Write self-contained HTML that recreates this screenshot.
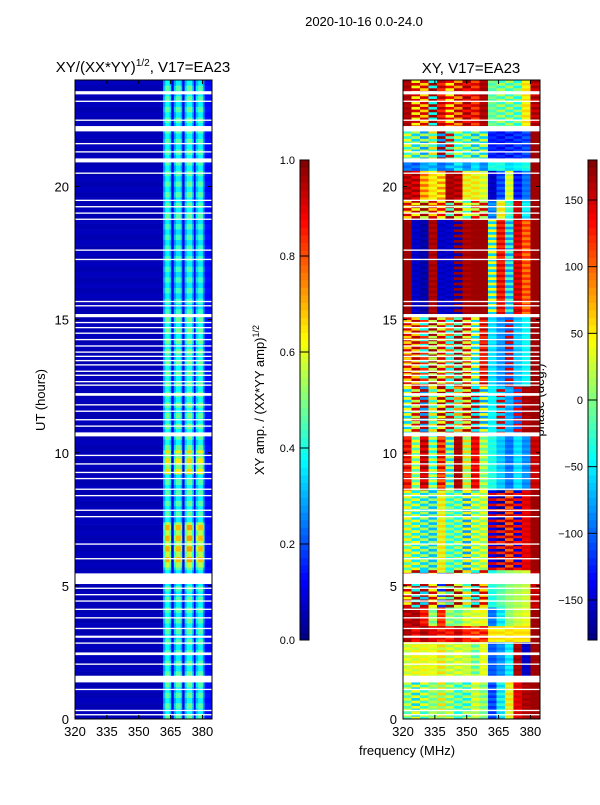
<!DOCTYPE html>
<html>
<head>
<meta charset="utf-8">
<style>
html,body{margin:0;padding:0;background:#fff;}
body{width:600px;height:800px;overflow:hidden;font-family:"Liberation Sans",sans-serif;}
svg text{font-family:"Liberation Sans",sans-serif;fill:#000;}
</style>
</head>
<body>
<svg id="fig" width="600" height="800" xmlns="http://www.w3.org/2000/svg">
  <text x="364" y="26" font-size="13" text-anchor="middle">2020-10-16 0.0-24.0</text>
  <text x="143" y="72" font-size="15" text-anchor="middle">XY/(XX*YY)<tspan font-size="10" dy="-6">1/2</tspan><tspan dy="6">, V17=EA23</tspan></text>
  <text x="471" y="73" font-size="15" text-anchor="middle">XY, V17=EA23</text>
  <text x="0" y="0" font-size="13" text-anchor="middle" transform="translate(45,400) rotate(-90)">UT (hours)</text>
  <text x="407" y="755" font-size="13" text-anchor="middle">frequency (MHz)</text>
  <text x="0" y="0" font-size="13" text-anchor="middle" transform="translate(264,400) rotate(-90)">XY amp. / (XX*YY amp)<tspan font-size="9" dy="-5">1/2</tspan></text>
  <text x="0" y="0" font-size="13" text-anchor="middle" transform="translate(544,400) rotate(-90)">phase (deg.)</text>
  <g id="ampPanel"></g>
  <g id="phasePanel"></g>
  <g id="cbars"></g>
  <g id="axes"></g>
</svg>
<script>
// ---------- data ----------
const xTicks = [320, 335, 350, 365, 380];
const yTicks = [0, 5, 10, 15, 20];
const ampTicks = [0.0, 0.2, 0.4, 0.6, 0.8, 1.0];
const phaseTicks = [-150, -100, -50, 0, 50, 100, 150];
// amplitude frequency bands [fLo, fHi, value rowA, value rowB]
const ampBands = [
  [320, 361.5, 0.05, 0.06],
  [361.5, 362.5, 0.32, 0.28],
  [362.5, 364.5, 0.47, 0.38],
  [364.5, 365.3, 0.36, 0.3],
  [365.3, 366.5, 0.1, 0.12],
  [366.5, 367.5, 0.34, 0.28],
  [367.5, 369.8, 0.46, 0.36],
  [369.8, 370.5, 0.34, 0.28],
  [370.5, 371.6, 0.1, 0.12],
  [371.6, 372.6, 0.35, 0.3],
  [372.6, 375.2, 0.48, 0.38],
  [375.2, 376.0, 0.32, 0.26],
  [376.0, 376.8, 0.1, 0.12],
  [376.8, 378.0, 0.36, 0.3],
  [378.0, 380.2, 0.46, 0.37],
  [380.2, 381.0, 0.3, 0.25],
  [381.0, 384.5, 0.14, 0.13]
];
// time segments [t0, t1, gain]
const ampSegments = [
  [0, 5.7, 1.0],
  [5.7, 7.4, 1.5],
  [7.4, 9.2, 1.0],
  [9.2, 10.1, 1.4],
  [10.1, 15.2, 1.05],
  [15.2, 18.8, 0.95],
  [18.8, 24, 1.0]
];
// phase: 16 channels of 4 MHz from 320
const phaseChannels = [320,324,328,332,336,340,344,348,352,356,360,364,368,372,376,380];
// segments [t0, t1, rowA values, rowB values]
const phaseSegments = [
  [0, 1.4, [-20,40,-30,20,0,30,-40,20,10,-10,-120,-60,30,150,160,170], [30,-60,40,-10,60,-20,10,-50,40,20,-100,-30,60,140,170,170]],
  [1.4, 2.9, [40,20,50,30,20,40,10,30,20,30,-110,-90,-60,170,-150,170], [20,50,30,40,60,10,40,20,-20,40,-100,-80,-40,160,-160,170]],
  [2.9, 3.5, [160,150,170,140,150,120,160,130,100,140,60,60,50,60,60,170], [170,130,160,150,120,140,150,120,130,110,50,40,60,50,50,170]],
  [3.5, 4.2, [170,160,120,-10,130,20,-20,10,40,50,-100,-60,0,20,30,170], [150,170,140,20,110,-10,10,40,20,30,-90,-40,10,30,40,170]],
  [4.2, 5.6, [150,-40,160,40,-120,170,30,-30,170,60,-30,-20,0,10,20,150], [40,160,-60,150,30,-20,170,60,-40,150,-40,-10,10,20,30,160]],
  [5.6, 8.6, [-20,40,-60,10,60,-40,20,-80,40,0,150,120,160,130,150,170], [50,-50,20,-70,30,10,-40,50,-20,40,-140,-170,100,-150,140,170]],
  [8.6, 10.7, [150,40,170,-40,150,20,160,60,130,30,-40,-70,-100,-60,-90,160], [120,-20,140,30,100,-60,170,0,150,-10,-30,-60,-90,-50,-80,150]],
  [10.7, 12.5, [40,150,-80,60,170,-30,80,160,-50,40,-40,-60,-80,140,170,170], [-60,20,160,-30,40,150,-20,30,160,-80,-50,150,-70,-100,160,170]],
  [12.5, 15.2, [150,60,-40,170,30,100,-20,150,40,160,-60,-90,-100,-70,-50,170], [60,160,120,20,150,-40,170,30,-60,120,-50,-80,150,-60,-40,170]],
  [15.2, 18.8, [170,-160,-160,170,-150,-160,-160,170,170,170,-60,150,-80,140,90,170], [170,-150,-170,160,-160,-150,170,160,170,170,40,120,-20,160,120,170]],
  [18.8, 19.5, [60,160,20,150,40,170,30,-30,140,10,-100,30,-40,160,-60,170], [150,40,170,60,140,-20,160,40,20,150,-80,60,-20,150,-40,170]],
  [19.5, 20.6, [150,170,100,60,40,160,170,60,30,40,-150,-120,20,-140,-100,170], [170,140,60,40,90,170,150,30,60,20,-160,-100,40,-120,-90,170]],
  [20.6, 21.0, [-90,-110,-80,-60,-100,-90,-40,-80,-60,-90,-40,-30,-60,-50,-40,170], [-100,-90,-70,-80,-90,-60,-70,-90,-50,-80,-30,-40,-50,-40,-30,170]],
  [21.0, 22.2, [-30,20,-80,60,170,-20,30,-50,10,-60,-120,-140,-110,-130,-100,170], [40,-60,20,-30,-80,150,-40,20,-70,30,-130,-120,-140,-110,-120,170]],
  [22.2, 24, [160,150,60,170,120,40,160,130,150,170,-20,20,-30,10,60,150], [170,40,150,-40,160,140,80,170,110,160,0,-30,20,-40,40,170]]
];
// flagged (white) time rows [UT, width in hours]
const gaps = [
  [23.52,0.12],[23.2,0.05],[22.49,0.05],[22.17,0.2],[21.61,0.05],[21.3,0.05],[20.98,0.15],[20.5,0.05],
  [19.48,0.05],[19.24,0.05],[19.0,0.05],[18.77,0.05],[17.61,0.05],[17.26,0.05],[15.68,0.05],[15.52,0.05],
  [15.15,0.12],[14.89,0.05],[14.7,0.05],[14.49,0.05],[14.25,0.05],[14.01,0.05],[13.78,0.05],[13.62,0.05],
  [13.46,0.05],[13.3,0.05],[13.06,0.05],[12.91,0.05],[12.67,0.05],[12.54,0.05],[12.19,0.1],[11.8,0.05],
  [11.56,0.05],[11.24,0.05],[11.0,0.05],[10.69,0.15],[9.9,0.05],[9.58,0.05],[9.26,0.05],[9.03,0.05],
  [8.63,0.05],[8.39,0.05],[7.84,0.05],[7.6,0.05],[6.57,0.05],[6.02,0.05],[5.27,0.4],[4.91,0.05],
  [4.67,0.05],[4.43,0.05],[4.12,0.05],[3.8,0.05],[3.4,0.05],[3.09,0.08],[2.85,0.05],[2.45,0.1],
  [2.06,0.05],[1.5,0.25],[1.11,0.05],[0.32,0.05],[0.16,0.05]
];
// ---------- layout ----------
const NS = "http://www.w3.org/2000/svg";
const P1 = {x0:75, x1:212}, P2 = {x0:403, x1:540}, Y0 = 719, Y1 = 80;
const fMin = 320, fMax = 384.5, tMin = 0, tMax = 24;
function xs(p, f){ return p.x0 + (f - fMin) / (fMax - fMin) * (p.x1 - p.x0); }
function ys(t){ return Y0 - (t - tMin) / (tMax - tMin) * (Y0 - Y1); }
function jet(v){
  v = Math.max(0, Math.min(1, v));
  const r = Math.max(0, Math.min(1, 1.5 - Math.abs(4*v - 3)));
  const g = Math.max(0, Math.min(1, 1.5 - Math.abs(4*v - 2)));
  const b = Math.max(0, Math.min(1, 1.5 - Math.abs(4*v - 1)));
  return `rgb(${Math.round(r*255)},${Math.round(g*255)},${Math.round(b*255)})`;
}
function mk(tag, attrs, parent){
  const e = document.createElementNS(NS, tag);
  for (const k in attrs) e.setAttribute(k, attrs[k]);
  parent.appendChild(e);
  return e;
}
const ampG = document.getElementById('ampPanel');
const phG = document.getElementById('phasePanel');
const rowH = 0.2;
// amplitude cells
ampSegments.forEach(seg => {
  for (let t = seg[0]; t < seg[1] - 1e-6; t += rowH) {
    const t2 = Math.min(t + rowH, seg[1]);
    const alt = Math.round(t / rowH) % 2;
    ampBands.forEach(b => {
      const v = (alt ? b[3] : b[2]) * (b[2] > 0.2 ? seg[2] : 1);
      const r = mk('rect', {x: xs(P1,b[0]), y: ys(t2), width: xs(P1,b[1]) - xs(P1,b[0]) + 0.3, height: ys(t) - ys(t2) + 0.3, fill: jet(v)}, ampG);
      
      
    });
  }
});
// phase cells
const phRow = 0.1;
phaseSegments.forEach(seg => {
  for (let t = seg[0]; t < seg[1] - 1e-6; t += phRow) {
    const t2 = Math.min(t + phRow, seg[1]);
    const alt = Math.round(t / phRow) % 2;
    const vals = alt ? seg[3] : seg[2];
    phaseChannels.forEach((f, i) => {
      const fe = i === phaseChannels.length - 1 ? fMax : phaseChannels[i+1];
      const r = mk('rect', {x: xs(P2,f), y: ys(t2), width: xs(P2,fe) - xs(P2,f) + 0.3, height: ys(t) - ys(t2) + 0.3, fill: jet((vals[i] + 180) / 360)}, phG);
      
      
    });
  }
});
// gaps
gaps.forEach(g => {
  [P1, P2].forEach(p => {
    const r = mk('rect', {x: p.x0, y: ys(g[0] + g[1]/2), width: p.x1 - p.x0, height: Math.max(1.2, ys(g[0] - g[1]/2) - ys(g[0] + g[1]/2)), fill: '#fff'}, p === P1 ? ampG : phG);
    
    
  });
});
// axes
const ax = document.getElementById('axes');
[P1, P2].forEach((p, pi) => {
  const fr = mk('rect', {x: p.x0, y: Y1, width: p.x1 - p.x0, height: Y0 - Y1, fill: 'none', stroke: '#000', 'stroke-width': 1}, ax);
  
  
  xTicks.forEach(f => {
    const x = xs(p, f);
    mk('line', {x1: x, x2: x, y1: Y0, y2: Y0 - 4, stroke: '#000'}, ax);
    mk('line', {x1: x, x2: x, y1: Y1, y2: Y1 + 4, stroke: '#000'}, ax);
    const tx = mk('text', {x: x, y: Y0 + 17, 'font-size': 13, 'text-anchor': 'middle'}, ax);
    tx.textContent = f;
    
    
  });
  yTicks.forEach(t => {
    const y = ys(t);
    mk('line', {x1: p.x0, x2: p.x0 + 4, y1: y, y2: y, stroke: '#000'}, ax);
    mk('line', {x1: p.x1, x2: p.x1 - 4, y1: y, y2: y, stroke: '#000'}, ax);
    const tx = mk('text', {x: p.x0 - 6, y: y + 5, 'font-size': 13, 'text-anchor': 'end'}, ax);
    tx.textContent = t;
    
    
  });
});
// colorbars
const cb = document.getElementById('cbars');
const CBY0 = 640, CBY1 = 160;
function colorbar(x, ticks, tmin, tmax, name){
  const n = 64;
  for (let i = 0; i < n; i++) {
    const y = CBY0 - (i + 1) * (CBY0 - CBY1) / n;
    mk('rect', {x: x, y: y, width: 9, height: (CBY0 - CBY1)/n + 0.4, fill: jet((i + 0.5)/n)}, cb);
  }
  const fr = mk('rect', {x: x, y: CBY1, width: 9, height: CBY0 - CBY1, fill: 'none', stroke: '#000'}, cb);
  
  
  ticks.forEach(v => {
    const y = CBY0 - (v - tmin) / (tmax - tmin) * (CBY0 - CBY1);
    mk('line', {x1: x, x2: x + 9, y1: y, y2: y, stroke: '#000'}, cb);
    const tx = mk('text', {x: x - 5, y: y + 4, 'font-size': 11, 'text-anchor': 'end'}, cb);
    tx.textContent = name === 'amp-colorbar' ? v.toFixed(1) : (v < 0 ? '\u2212' + Math.abs(v) : v);
    
    
  });
}
colorbar(300, ampTicks, 0, 1, 'amp-colorbar');
colorbar(588, phaseTicks, -180, 180, 'phase-colorbar');
</script>
</body>
</html>
